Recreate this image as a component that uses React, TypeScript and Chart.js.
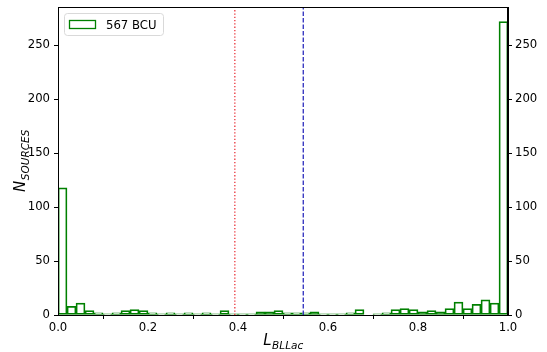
import { useEffect, useRef } from "react";
import { Chart, registerables } from "chart.js";

Chart.register(...registerables);

const binCenters = [
  0.01, 0.03, 0.05, 0.07, 0.09, 0.11, 0.13, 0.15, 0.17, 0.19,
  0.21, 0.23, 0.25, 0.27, 0.29, 0.31, 0.33, 0.35, 0.37, 0.39,
  0.41, 0.43, 0.45, 0.47, 0.49, 0.51, 0.53, 0.55, 0.57, 0.59,
  0.61, 0.63, 0.65, 0.67, 0.69, 0.71, 0.73, 0.75, 0.77, 0.79,
  0.81, 0.83, 0.85, 0.87, 0.89, 0.91, 0.93, 0.95, 0.97, 0.99,
];
const counts = [
  118, 8, 11, 4, 2, 1, 2, 4, 5, 4,
  2, 1, 2, 1, 2, 1, 2, 1, 4, 1,
  1, 1, 3, 3, 4, 2, 2, 2, 3, 1,
  1, 1, 2, 5, 0, 1, 2, 5, 6, 5,
  3, 4, 3, 6, 12, 6, 10, 14, 11, 272,
];
const seriesLabel = "567 BCU";
const xTicks = [0, 0.2, 0.4, 0.6, 0.8, 1.0];
const yTicks = [0, 50, 100, 150, 200, 250];
const redLineValue = [0.393];
const blueLineValue = [0.545];
const xRange = [0, 1];
const yRange = [0, 285.6];

const FONT = "DejaVu Sans";

export default function App() {
  const ref = useRef<HTMLCanvasElement | null>(null);

  useEffect(() => {
    document.body.style.margin = "0";
    const canvas = ref.current!;
    const green = "#008000";

    const decor = {
      id: "decor",
      afterDatasetsDraw(chart: any) {
        const ctx = chart.ctx as CanvasRenderingContext2D;
        const a = chart.chartArea;
        const xs = chart.scales.x;
        ctx.save();
        const drawV = (v: number, color: string, dash: number[]) => {
          const px = xs.getPixelForValue(v);
          ctx.beginPath();
          ctx.setLineDash(dash);
          ctx.strokeStyle = color;
          ctx.lineWidth = 1.2;
          ctx.moveTo(px, a.bottom);
          ctx.lineTo(px, a.top);
          ctx.stroke();
        };
        redLineValue.forEach((v) => drawV(v, "#e8232a", [1.3, 2]));
        blueLineValue.forEach((v) => drawV(v, "#1c1cb8", [4.5, 2]));
        ctx.setLineDash([]);
        ctx.strokeStyle = "#000";
        ctx.lineWidth = 1;
        ctx.strokeRect(a.left + 0.5, a.top + 0.5, a.right - a.left - 1, a.bottom - a.top);

        const lx = 64.5, ly = 13.5, lw = 99, lh = 22, r = 3;
        ctx.beginPath();
        ctx.moveTo(lx + r, ly);
        ctx.lineTo(lx + lw - r, ly);
        ctx.quadraticCurveTo(lx + lw, ly, lx + lw, ly + r);
        ctx.lineTo(lx + lw, ly + lh - r);
        ctx.quadraticCurveTo(lx + lw, ly + lh, lx + lw - r, ly + lh);
        ctx.lineTo(lx + r, ly + lh);
        ctx.quadraticCurveTo(lx, ly + lh, lx, ly + lh - r);
        ctx.lineTo(lx, ly + r);
        ctx.quadraticCurveTo(lx, ly, lx + r, ly);
        ctx.closePath();
        ctx.fillStyle = "rgba(255,255,255,0.8)";
        ctx.fill();
        ctx.strokeStyle = "#d9d9d9";
        ctx.lineWidth = 1;
        ctx.stroke();
        ctx.strokeStyle = green;
        ctx.lineWidth = 1.3;
        ctx.strokeRect(69.5, 20.5, 26, 8);
        ctx.fillStyle = "#000";
        ctx.font = `11.7px "${FONT}"`;
        ctx.textBaseline = "alphabetic";
        ctx.textAlign = "left";
        ctx.fillText(seriesLabel, 106, 29);

        const drawMath = (base: string, sub: string, cx: number, cy: number, rot: number) => {
          ctx.save();
          ctx.translate(cx, cy);
          ctx.rotate(rot);
          const bf = `italic 15px "${FONT}"`;
          const sf = `italic 10.5px "${FONT}"`;
          ctx.font = bf;
          const wb = ctx.measureText(base).width;
          ctx.font = sf;
          const ws = ctx.measureText(sub).width;
          const x0 = -(wb + ws) / 2;
          ctx.font = bf;
          ctx.fillText(base, x0, 0);
          ctx.font = sf;
          ctx.fillText(sub, x0 + wb + 0.5, 3.5);
          ctx.restore();
        };
        drawMath("L", "BLLac", (a.left + a.right) / 2, 345, 0);
        drawMath("N", "SOURCES", 25, (a.top + a.bottom) / 2, -Math.PI / 2);
        ctx.restore();
      },
    };

    const fitV = (w: number) => (s: any) => {
      s.width = w;
      s.paddingTop = 0;
      s.paddingBottom = 0;
    };

    const tickFont = { family: FONT, size: 11.7 };
    const chart = new Chart(canvas, {
      type: "bar",
      data: {
        datasets: [
          {
            label: seriesLabel,
            data: binCenters.map((x, i) => ({ x, y: counts[i] })),
            backgroundColor: "rgba(255,255,255,0)",
            borderColor: green,
            borderWidth: 1.1,
            borderSkipped: false,
            barPercentage: 1,
            categoryPercentage: 1,
            yAxisID: "y",
          } as any,
        ],
      },
      options: {
        animation: false,
        responsive: false,
        events: [],
        layout: { padding: { top: 7, left: 0, right: 0, bottom: 0 } },
        plugins: { legend: { display: false }, tooltip: { enabled: false } },
        scales: {
          x: {
            type: "linear",
            min: xRange[0],
            max: xRange[1],
            offset: false,
            afterBuildTicks: (s: any) => {
              s.ticks = xTicks.map((v) => ({ value: v }));
            },
            afterFit: (s: any) => {
              s.height = 37;
              s.paddingLeft = 0;
              s.paddingRight = 0;
            },
            ticks: {
              font: tickFont,
              color: "#000",
              padding: 2,
              maxRotation: 0,
              autoSkip: false,
              callback: (v: any) => Number(v).toFixed(1),
            },
            grid: { drawOnChartArea: false, drawTicks: true, tickLength: 4, color: "#000" },
            border: { display: true, color: "#000" },
          },
          y: {
            type: "linear",
            position: "left",
            min: yRange[0],
            max: yRange[1],
            afterBuildTicks: (s: any) => {
              s.ticks = yTicks.map((v) => ({ value: v }));
            },
            afterFit: fitV(58),
            ticks: { font: tickFont, color: "#000", padding: 4, autoSkip: false },
            grid: { drawOnChartArea: false, drawTicks: true, tickLength: 4, color: "#000" },
            border: { display: true, color: "#000" },
          },
          y2: {
            type: "linear",
            position: "right",
            min: yRange[0],
            max: yRange[1],
            afterBuildTicks: (s: any) => {
              s.ticks = yTicks.map((v) => ({ value: v }));
            },
            afterFit: fitV(39),
            ticks: { font: tickFont, color: "#000", padding: 3, autoSkip: false },
            grid: { drawOnChartArea: false, drawTicks: true, tickLength: 4, color: "#000" },
            border: { display: true, color: "#000" },
          },
        },
      } as any,
      plugins: [decor],
    });
    return () => chart.destroy();
  }, []);

  return (
    <div style={{ width: 547, height: 352 }}>
      <canvas ref={ref} width={547} height={352} style={{ display: "block" }} />
    </div>
  );
}
